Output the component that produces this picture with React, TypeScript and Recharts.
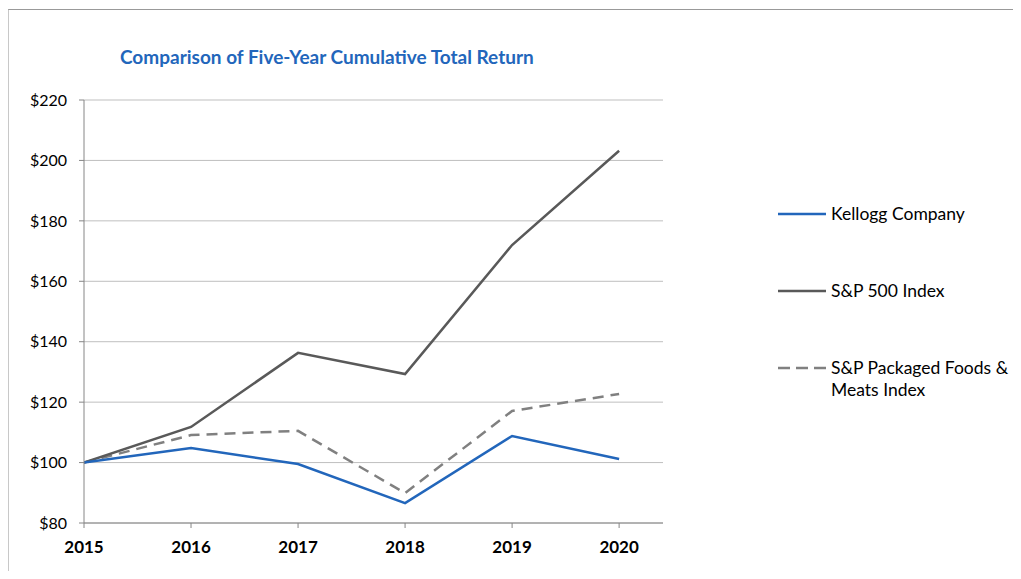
import React from "react";
import { CartesianGrid, Line, LineChart, XAxis, YAxis } from "recharts";

const years = [2015, 2016, 2017, 2018, 2019, 2020];
const kellogg = [100, 104.8, 99.5, 86.6, 108.8, 101.2];
const sp500 = [100, 111.8, 136.3, 129.3, 172.0, 203.2];
const packagedFoods = [100, 109.1, 110.5, 89.9, 117.1, 122.7];
const yTicks = [80, 100, 120, 140, 160, 180, 200, 220];

const data = years.map((year, i) => ({
  year,
  kellogg: kellogg[i],
  sp500: sp500[i],
  packaged: packagedFoods[i],
}));

const FONT = "Lato, 'Open Sans', sans-serif";
const BLUE = "#2266BB";
const DARK = "#595959";
const DASH = "#808080";

const LegendItem = ({
  top,
  color,
  dashed,
  label,
}: {
  top: number;
  color: string;
  dashed?: boolean;
  label: React.ReactNode;
}) => (
  <div style={{ position: "absolute", left: 778, top, display: "flex" }}>
    <svg width={48} height={22} style={{ flexShrink: 0 }}>
      <line
        x1={0}
        y1={11}
        x2={48}
        y2={11}
        stroke={color}
        strokeWidth={2.5}
        strokeDasharray={dashed ? "12 6" : undefined}
      />
    </svg>
    <div style={{ marginLeft: 5, fontSize: 17.5, lineHeight: "22px", color: "#000" }}>
      {label}
    </div>
  </div>
);

export default function App() {
  return (
    <div
      style={{
        position: "relative",
        width: 1021,
        height: 579,
        margin: -8,
        background: "#fff",
        fontFamily: FONT,
        overflow: "hidden",
      }}
    >
      <div
        style={{
          position: "absolute",
          left: 120,
          top: 45,
          fontSize: 19,
          fontWeight: 700,
          color: BLUE,
          lineHeight: "24px",
        }}
      >
        Comparison of Five-Year Cumulative Total Return
      </div>
      <div style={{ position: "absolute", left: 0, top: 0 }}>
        <LineChart
          width={1021}
          height={579}
          data={data}
          margin={{ top: 100, right: 358, bottom: 26, left: 44 }}
        >
          <CartesianGrid horizontal vertical={false} stroke="#BFBFBF" strokeWidth={1} />
          <XAxis
            dataKey="year"
            type="number"
            domain={[2015, 2020.41]}
            ticks={years}
            allowDataOverflow
            stroke="#868686"
            tickSize={5}
            tickMargin={13}
            height={30}
            tick={{ fill: "#000", fontSize: 17, fontWeight: 700, fontFamily: FONT }}
          />
          <YAxis
            domain={[80, 220]}
            ticks={yTicks}
            width={40}
            stroke="#868686"
            tickSize={5}
            tickMargin={12}
            tickFormatter={(v: number) => `$${v}`}
            tick={{ fill: "#000", fontSize: 16, fontFamily: FONT }}
          />
          <Line
            dataKey="packaged"
            stroke={DASH}
            strokeWidth={2.5}
            strokeDasharray="11 7"
            dot={false}
            isAnimationActive={false}
          />
          <Line
            dataKey="sp500"
            stroke={DARK}
            strokeWidth={2.5}
            dot={false}
            isAnimationActive={false}
          />
          <Line
            dataKey="kellogg"
            stroke={BLUE}
            strokeWidth={2.5}
            dot={false}
            isAnimationActive={false}
          />
        </LineChart>
      </div>
      <LegendItem top={203} color={BLUE} label="Kellogg Company" />
      <LegendItem top={280} color={DARK} label="S&P 500 Index" />
      <LegendItem
        top={357}
        color={DASH}
        dashed
        label={
          <>
            S&amp;P Packaged Foods &amp;
            <br />
            Meats Index
          </>
        }
      />
      <div
        style={{
          position: "absolute",
          left: 7,
          top: 9,
          width: 1014,
          height: 570,
          borderTop: "1px solid #999",
          borderLeft: "2px solid #C8C8C8",
          boxSizing: "border-box",
          pointerEvents: "none",
        }}
      />
    </div>
  );
}
